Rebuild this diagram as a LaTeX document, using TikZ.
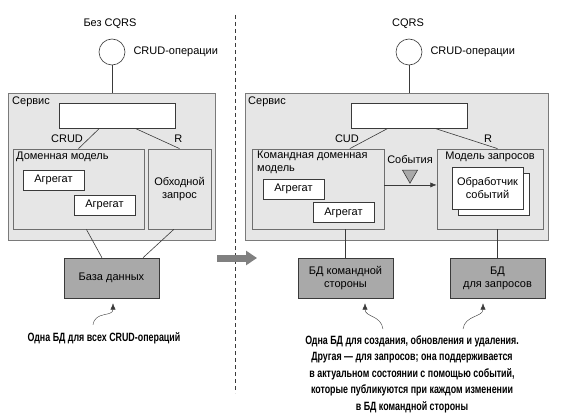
\documentclass[tikz,border=0pt]{standalone}
\usepackage{fontspec}
\setmainfont{Liberation Sans}
\newfontfamily\notefont[FakeStretch=0.74]{Liberation Sans}
\usepackage{tikz}
\usetikzlibrary{
  arrows.meta,
  positioning,
  shapes.geometric,
  calc,
}
\definecolor{frame}{HTML}{7A7A7A}
\definecolor{panel}{HTML}{E6E6E6}
\definecolor{store}{HTML}{A9A9A9}
\definecolor{wire}{HTML}{3A3A3A}
\tikzset{
  svcbox/.style={
    rectangle, draw=frame, fill=panel, line width=0.9pt, inner sep=0pt,
  },
  modelbox/.style={
    rectangle, draw=frame!90!black, fill=panel, line width=0.8pt, inner sep=0pt,
    minimum height=80pt,
  },
  whitebox/.style={
    rectangle, draw=wire, fill=white, line width=0.6pt, inner sep=0pt,
    align=center,
  },
  aggbox/.style={
    whitebox, minimum width=61pt, minimum height=20pt,
  },
  dbbox/.style={
    rectangle, draw=wire, fill=store, line width=0.6pt, inner sep=0pt,
    minimum width=95pt, minimum height=40pt, align=center,
  },
  client/.style={
    circle, draw=wire, fill=white, line width=0.6pt, minimum size=26pt,
    inner sep=0pt,
  },
  wireline/.style={draw=wire, line width=0.6pt},
  note/.style={font=\notefont\bfseries\fontsize{12}{16.5}\selectfont, align=center},
  noteArrow/.style={
    -{Latex[length=2.2mm,width=1.8mm]}, draw=wire, line width=0.4pt,
  },
}

\begin{document}
\begin{tikzpicture}[x=1pt,y=-1pt,font=\fontsize{11}{13}\selectfont]
\useasboundingbox (0,0) rectangle (562,417);

% --- without CQRS ---
\node (titleL) at (110,24) {Без CQRS};
\node[client] (circL) at (112,52) {};
\node[anchor=west] (opsL) at (130,52) {CRUD-операции};
\node[svcbox, minimum width=207pt, minimum height=147pt] (svcL) at (111.5,166.5) {};
\node[anchor=west, inner sep=0pt] (svcLlbl) at (12,102) {Сервис};
\node[whitebox, minimum width=116pt, minimum height=25pt] (apiL) at (117,115.5) {};
\node[modelbox, minimum width=131pt] (domL) at (78.5,189) {};
\node[anchor=west, inner sep=0pt] (domLlbl) at (16,157) {Доменная модель};
\node[aggbox] (aggL1) at (53.5,180) {Агрегат};
\node[aggbox] (aggL2) at (104.5,205) {Агрегат};
\node[modelbox, minimum width=63pt, align=center] (bypL) at (179.5,189)
  {Обходной\\запрос};
\node[dbbox] (dbL) at (111.5,278) {База данных};

\draw[wireline] (circL.south) -- (circL.south |- svcL.north);
\draw[wireline] ($(apiL.south west)!0.35!(apiL.south east)$) -- (domL.north)
  node[pos=.5, xshift=-22pt] {CRUD};
\draw[wireline] ($(apiL.south west)!0.655!(apiL.south east)$) -- (bypL.north)
  node[pos=.5, xshift=21pt] {R};
\draw[wireline] ($(domL.south west)!0.56!(domL.south east)$)
  -- ($(dbL.north west)!0.4!(dbL.north east)$);
\draw[wireline] ($(bypL.south west)!0.41!(bypL.south east)$)
  -- ($(dbL.north west)!0.83!(dbL.north east)$);

\node[note] (noteL) at (104,338) {Одна БД для всех CRUD-операций};
\coordinate (tipL) at ($(dbL.south)+(1.5,5)$);
\draw[noteArrow] ($(noteL.north)+(-11,-4)$) .. controls +(2,-14) and +(0,14) .. (tipL);

% --- separator ---
\coordinate (sepTop) at (235,15);
\coordinate (sepBot) at (235,393);
\draw[draw=wire, line width=0.6pt, dash pattern=on 4pt off 3pt] (sepTop) -- (sepBot);
\coordinate (bigA) at (217,258);
\coordinate (bigB) at (257,258);
\draw[draw=gray, line width=7pt, -{Triangle[length=11pt,width=14pt]}] (bigA) -- (bigB);

% --- with CQRS ---
\node (titleR) at (408,24) {CQRS};
\node[client] (circR) at (409,52) {};
\node[anchor=west] (opsR) at (427,52) {CRUD-операции};
\node[svcbox, minimum width=303pt, minimum height=147pt] (svcR) at (396.5,166.5) {};
\node[anchor=west, inner sep=0pt] (svcRlbl) at (248,102) {Сервис};
\node[whitebox, minimum width=116pt, minimum height=25pt] (apiR) at (409,115.5) {};
\node[modelbox, minimum width=132pt] (cmdR) at (318,189) {};
\node[anchor=north west, inner sep=0pt, align=left] (cmdRlbl) at (257,151)
  {Командная доменная\\модель};
\node[aggbox] (aggR1) at (293.5,189) {Агрегат};
\node[aggbox] (aggR2) at (343.5,212.5) {Агрегат};
\node[modelbox, minimum width=106pt] (qryR) at (490,189) {};
\node[inner sep=0pt] (qryRlbl) at (490,157) {Модель запросов};
\node[whitebox, minimum width=71pt, minimum height=42pt] (hdlBack) at (494,194) {};
\node[whitebox, minimum width=71pt, minimum height=42pt] (hdlR) at (487.5,188)
  {Обработчик\\событий};
\node[inner sep=0pt] (evtlbl) at (410,160) {События};
\node[isosceles triangle, shape border rotate=-90, isosceles triangle apex angle=60,
  draw=wire, fill=store, line width=0.6pt, inner sep=0pt, minimum height=13pt]
  (evtR) at (410,174.5) {};
\node[dbbox] (cmdDB) at (345.5,278) {БД командной\\стороны};
\node[dbbox] (qryDB) at (497.5,278) {БД\\для запросов};

\draw[wireline] (circR.south) -- (circR.south |- svcR.north);
\draw[wireline] ($(apiR.south west)!0.32!(apiR.south east)$)
  -- ($(cmdR.north west)!0.74!(cmdR.north east)$)
  node[pos=.5, xshift=-22pt] {CUD};
\draw[wireline] ($(apiR.south west)!0.72!(apiR.south east)$)
  -- ($(qryR.north west)!0.57!(qryR.north east)$)
  node[pos=.5, xshift=22pt] {R};
\draw[wireline, -{Latex[length=2.2mm,width=1.8mm]}]
  ($(cmdR.north east)!0.45!(cmdR.south east)$) -- ($(qryR.north west)!0.45!(qryR.south west)$);
\draw[wireline] (cmdDB.north |- cmdR.south) -- (cmdDB.north);
\draw[wireline] (qryDB.north |- qryR.south) -- (qryDB.north);

\node[note, anchor=north] (noteR) at (412,332) {Одна БД для создания, обновления и удаления.\\
  Другая — для запросов; она поддерживается\\
  в актуальном состоянии с помощью событий,\\
  которые публикуются при каждом изменении\\
  в БД командной стороны};
\coordinate (tipR1) at ($(cmdDB.south)+(19.5,5)$);
\coordinate (tipR2) at ($(qryDB.south)+(-14.5,5)$);
\coordinate (tailR1) at (383,329);
\coordinate (tailR2) at (463,329);
\draw[noteArrow] (tailR1) .. controls +(-2,-14) and +(0,14) .. (tipR1);
\draw[noteArrow] (tailR2) .. controls +(2,-14) and +(0,14) .. (tipR2);

\end{tikzpicture}
\end{document}
